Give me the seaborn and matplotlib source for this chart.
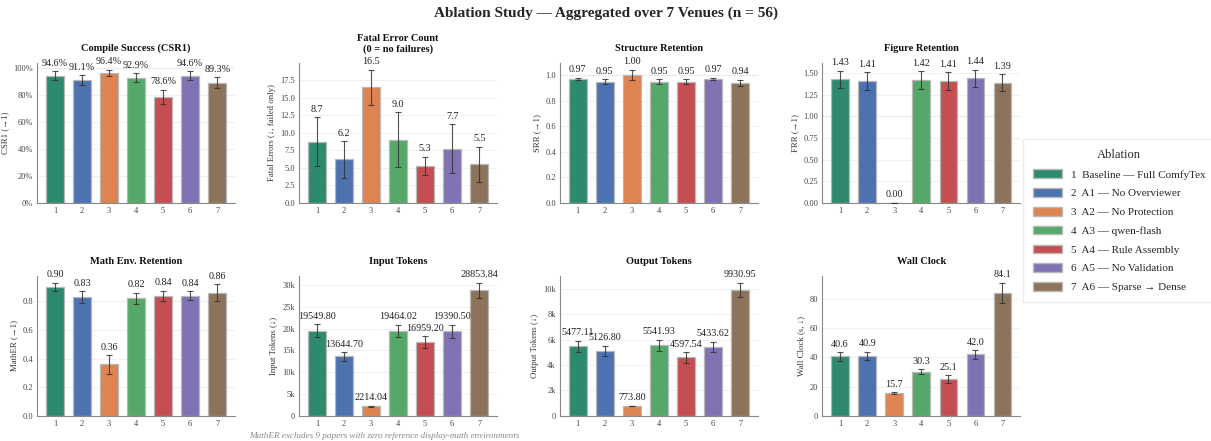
import matplotlib
matplotlib.use("Agg")
import matplotlib.pyplot as plt
import matplotlib.patches as mpatches
from matplotlib.ticker import FuncFormatter
import seaborn as sns
import pandas as pd

# ---- data ----
variants = ["1", "2", "3", "4", "5", "6", "7"]
legend_names = ["1  Baseline — Full ComfyTex", "2  A1 — No Overviewer", "3  A2 — No Protection",
                "4  A3 — qwen-flash", "5  A4 — Rule Assembly", "6  A5 — No Validation",
                "7  A6 — Sparse → Dense"]
colors = ["#2e8a6e", "#4c72b0", "#dd8452", "#55a868", "#c44e52", "#8172b3", "#8c7359"]

csr1 = [0.946, 0.911, 0.964, 0.929, 0.786, 0.946, 0.893]
csr1_err = [0.030, 0.038, 0.025, 0.034, 0.055, 0.030, 0.041]
fatal = [8.7, 6.2, 16.5, 9.0, 5.3, 7.7, 5.5]
fatal_err = [3.5, 2.6, 2.5, 3.9, 1.3, 3.5, 2.5]
srr = [0.97, 0.95, 1.004, 0.95, 0.95, 0.97, 0.94]
srr_err = [0.01, 0.02, 0.04, 0.02, 0.02, 0.01, 0.025]
frr = [1.43, 1.41, 0.00, 1.42, 1.41, 1.44, 1.39]
frr_err = [0.10, 0.10, 0.0, 0.10, 0.10, 0.10, 0.10]
mather = [0.90, 0.83, 0.36, 0.82, 0.84, 0.84, 0.86]
mather_err = [0.03, 0.04, 0.065, 0.04, 0.035, 0.03, 0.06]
in_tok = [19549.80, 13644.70, 2214.04, 19464.02, 16959.20, 19390.50, 28853.84]
in_tok_err = [1500, 1000, 100, 1400, 1350, 1500, 1700]
out_tok = [5477.11, 5126.80, 773.80, 5541.93, 4597.54, 5433.62, 9930.95]
out_tok_err = [450, 400, 30, 450, 430, 420, 550]
wall = [40.6, 40.9, 15.7, 30.3, 25.1, 42.0, 84.1]
wall_err = [2.9, 2.9, 0.5, 1.7, 2.7, 3.0, 6.9]

panels = [
    ("Compile Success (CSR1)", "CSR1 (→1)", csr1, csr1_err, "pct", True),
    ("Fatal Error Count\n(0 = no failures)", "Fatal Errors (↓, failed only)", fatal, fatal_err, "{:.1f}", False),
    ("Structure Retention", "SRR (→1)", srr, srr_err, "{:.2f}", True),
    ("Figure Retention", "FRR (→1)", frr, frr_err, "{:.2f}", True),
    ("Math Env. Retention", "MathER (→1)", mather, mather_err, "{:.2f}", True),
    ("Input Tokens", "Input Tokens (↓)", in_tok, in_tok_err, "{:.2f}", False),
    ("Output Tokens", "Output Tokens (↓)", out_tok, out_tok_err, "{:.2f}", False),
    ("Wall Clock", "Wall Clock (s, ↓)", wall, wall_err, "{:.1f}", False),
]

sns.set_theme(style="whitegrid")
plt.rcParams['font.family'] = ['Liberation Serif', 'DejaVu Serif']
plt.rcParams['axes.unicode_minus'] = False

fig = plt.figure(figsize=(12.11, 4.41), dpi=100)
lefts = [0.0306, 0.247, 0.4624, 0.679]
bottoms = [0.540, 0.057]
w, h = 0.1635, 0.317

kfmt = FuncFormatter(lambda v, p: "0" if v == 0 else f"{v/1000:.0f}k")

for i, (title, ylabel, vals, errs, fmt, ref) in enumerate(panels):
    ax = fig.add_axes([lefts[i % 4], bottoms[i // 4], w, h])
    df = pd.DataFrame({"variant": variants, "value": vals})
    sns.barplot(data=df, x="variant", y="value", hue="variant", palette=colors, saturation=1,
                width=0.65, edgecolor="#b8b8b8", linewidth=0.9, legend=False, ax=ax)
    ax.errorbar(range(7), vals, yerr=errs, fmt="none", ecolor="#333333",
                elinewidth=0.8, capsize=2.5, capthick=0.8, alpha=0.85, zorder=5)
    top = max(v + e for v, e in zip(vals, errs))
    ax.set_ylim(0, top * 1.05)
    ax.set_xlim(-0.66, 6.66)
    if ref:
        ax.axhline(1.0, color="#aaaaaa", ls=":", lw=0.8, zorder=0.5)
    for x, (v, e) in enumerate(zip(vals, errs)):
        txt = f"{v*100:.1f}%" if fmt == "pct" else fmt.format(v)
        ax.annotate(txt, (x, v + e), xytext=(0, 2.5), textcoords="offset points",
                    ha="center", va="bottom", fontsize=7.3, color="#222222")
    if fmt == "pct":
        ax.yaxis.set_major_formatter(FuncFormatter(lambda v, p: f"{v*100:.0f}%"))
    if title in ("Input Tokens", "Output Tokens"):
        ax.yaxis.set_major_formatter(kfmt)
    ax.set_title(title, fontsize=7.5, fontweight="bold", pad=9 if "\n" not in title else 8,
                 color="#111111")
    ax.set_xlabel("")
    ax.set_ylabel(ylabel, fontsize=6.3, color="#333333", labelpad=3)
    ax.tick_params(axis="both", labelsize=6, colors="#444444", length=0, pad=3)
    ax.grid(axis="x", visible=False)
    ax.grid(axis="y", color="#eeeeee", lw=0.6)
    ax.set_axisbelow(True)
    sns.despine(ax=ax)
    for s in ("left", "bottom"):
        ax.spines[s].set_color("#888888")
        ax.spines[s].set_linewidth(0.8)

handles = [mpatches.Patch(facecolor=c, edgecolor="#b8b8b8", label=n)
           for c, n in zip(colors, legend_names)]
fig.legend(handles=handles, title="Ablation", loc="center left", bbox_to_anchor=(0.840, 0.5),
           fontsize=8, title_fontsize=9, frameon=True, edgecolor="#e6e6e6",
           handlelength=2.6, handleheight=0.8, labelspacing=0.78, borderpad=0.9,
           fancybox=False)

fig.suptitle("Ablation Study — Aggregated over 7 Venues (n = 56)", fontsize=11,
             fontweight="bold", y=0.985)
fig.text(0.317, 0.002, "MathER excludes 9 papers with zero reference display-math environments",
         fontsize=6.6, style="italic", color="#888888", ha="center", va="bottom")

fig.savefig("out.png", dpi=100)
